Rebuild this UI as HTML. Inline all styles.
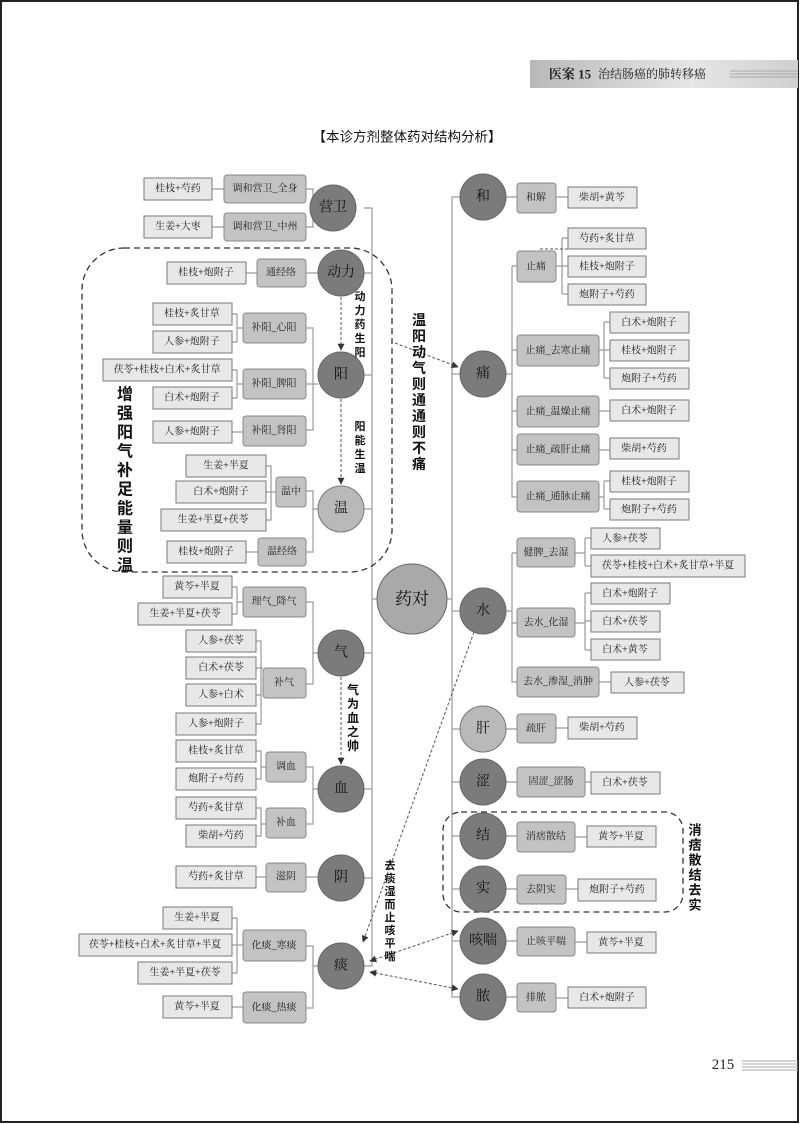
<!DOCTYPE html>
<html><head><meta charset="utf-8"><style>
html,body{margin:0;padding:0;background:#fff}
svg{display:block}
.l{fill:#e8e8e8;stroke:#7a7a7a;stroke-width:1}
.m{fill:#c3c3c3;stroke:#8a8a8a;stroke-width:1}
.c{fill:#7b7b7b;stroke:#666;stroke-width:1}
.cl{fill:#b9b9b9;stroke:#777;stroke-width:1}
.ln{stroke:#9a9a9a;stroke-width:1.2;fill:none}
.d{stroke:#555;stroke-width:1;stroke-dasharray:3,2;fill:none}
.dd{stroke:#333;stroke-width:1.3;stroke-dasharray:6,4;fill:none}
text{font-family:"Liberation Serif","Noto Serif CJK SC",serif;font-size:10px;fill:#222;text-anchor:middle;dominant-baseline:central}
text.ct{font-size:14px;fill:#111}
.b text, text.b{font-family:"Liberation Sans","Noto Sans CJK SC",sans-serif;font-weight:bold;fill:#111}
</style></head><body>
<svg width="800" height="1124" viewBox="0 0 800 1124" xmlns="http://www.w3.org/2000/svg">
<defs>
<linearGradient id="hg" x1="0" x2="1"><stop offset="0" stop-color="#b8b8b8"/><stop offset="0.6" stop-color="#e6e6e6"/><stop offset="1" stop-color="#cfcfcf"/></linearGradient>
<marker id="ar" viewBox="0 0 10 10" refX="9" refY="5" markerWidth="7" markerHeight="7" orient="auto"><path d="M0,0L10,5L0,10z" fill="#333"/></marker>
<marker id="as" viewBox="0 0 10 10" refX="1" refY="5" markerWidth="7" markerHeight="7" orient="auto"><path d="M10,0L0,5L10,10z" fill="#333"/></marker>
</defs>
<rect x="1" y="1" width="797" height="1121" fill="none" stroke="#222" stroke-width="2"/>
<!-- header -->
<rect x="530" y="60" width="268" height="28" fill="url(#hg)"/>
<text x="570" y="74" style="font-size:13px;font-weight:bold">医案 15</text>
<text x="652" y="74" style="font-size:12px">治结肠癌的肺转移癌</text>
<g stroke="#aaa"><line x1="730" y1="71" x2="798" y2="71"/><line x1="730" y1="74" x2="798" y2="74"/><line x1="730" y1="77" x2="798" y2="77"/></g>
<text x="407" y="137" class="b" style="font-size:13.5px;font-weight:normal">【本诊方剂整体药对结构分析】</text>
<!-- main vertical lines -->
<path class="ln" d="M364,208H372V966H364"/>
<path class="ln" d="M460,197H452V997H460"/>
<line class="ln" x1="372" y1="599" x2="379" y2="599"/>
<line class="ln" x1="445" y1="599" x2="452" y2="599"/>
<g class="ln">
<line x1="364" y1="273" x2="372" y2="273"/><line x1="364" y1="375" x2="372" y2="375"/><line x1="364" y1="509" x2="372" y2="509"/><line x1="364" y1="653" x2="372" y2="653"/><line x1="364" y1="789" x2="372" y2="789"/><line x1="364" y1="878" x2="372" y2="878"/>
<line x1="452" y1="374" x2="460" y2="374"/><line x1="452" y1="611" x2="460" y2="611"/><line x1="452" y1="729" x2="460" y2="729"/><line x1="452" y1="782" x2="460" y2="782"/><line x1="452" y1="836" x2="460" y2="836"/><line x1="452" y1="889" x2="460" y2="889"/><line x1="452" y1="941" x2="460" y2="941"/>
</g>
<!-- LEFT connectors -->
<g class="ln">
<path d="M306,189H313V227H306M313,208H318"/><path d="M212,189H224M212,227H224"/>
<path d="M246,273H257M306,273H318"/>
<path d="M306,328H313V430H306M306,384H318"/>
<path d="M232,314H237V342H232M237,328H243"/>
<path d="M232,370H237V398H232M237,384H243"/>
<path d="M232,432H243"/>
<path d="M306,491H313V552H306M313,509H318"/>
<path d="M266,466H271V520H266M266,492H276"/>
<path d="M246,552H258"/>
<path d="M306,602H313V684H306M313,653H318"/>
<path d="M232,587H237V614H232M237,602H243"/>
<path d="M256,641H261V724H256M256,668H263M256,695H261"/>
<path d="M306,767H313V824H306M313,789H318"/>
<path d="M256,751H261V779H256M261,767H266"/>
<path d="M256,808H261V836H256M261,824H266"/>
<path d="M256,877H266M306,877H318"/>
<path d="M306,946H313V1008H306M313,966H318"/>
<path d="M232,918H237V973H232M232,945H243"/>
<path d="M232,1007H243"/>
</g>
<!-- RIGHT connectors -->
<g class="ln">
<path d="M506,197H517M556,197H568"/>
<path d="M512,266V497H517M512,266H517M512,350H517M512,411H517M512,450H517"/>
<path d="M506,374H512"/>
<path d="M556,266H562M562,238V294M562,238H568M562,266H568M562,294H568"/>
<path d="M599,350H604M604,322V378M604,322H610M604,350H610M604,378H610"/>
<path d="M599,411H610M599,450H610"/>
<path d="M599,497H604M604,481V509M604,481H610M604,509H610"/>
<path d="M512,553V682H517M512,553H517M512,623H517M506,611H512"/>
<path d="M575,553H585M585,538V566M585,538H591M585,566H591"/>
<path d="M575,623H585M585,593V650M585,593H591M585,621H591M585,650H591"/>
<path d="M599,682H611"/>
<path d="M506,729H517M556,728H568"/>
<path d="M506,782H517M585,782H591"/>
<path d="M506,836H517M575,837H587"/>
<path d="M506,889H517M566,889H578"/>
<path d="M506,941H517M575,942H587"/>
<path d="M506,997H517M556,998H568"/>
</g>
<line class="d" x1="540" y1="249" x2="630" y2="249"/>
<!-- dashed groups -->
<rect class="dd" x="82" y="248" width="310" height="324" rx="42"/>
<rect class="dd" x="443" y="812" width="240" height="100" rx="18"/>
<!-- dashed arrows -->
<line class="d" x1="341" y1="297" x2="341" y2="350" marker-end="url(#ar)"/>
<line class="d" x1="341" y1="399" x2="341" y2="484" marker-end="url(#ar)"/>
<line class="d" x1="341" y1="677" x2="341" y2="764" marker-end="url(#ar)"/>
<line class="d" x1="395" y1="343" x2="458" y2="367" marker-end="url(#ar)"/>
<line class="d" x1="474" y1="632" x2="363" y2="942" marker-end="url(#ar)"/>
<line class="d" x1="370" y1="961" x2="458" y2="931" marker-start="url(#as)" marker-end="url(#ar)"/>
<line class="d" x1="370" y1="972" x2="458" y2="989" marker-start="url(#as)" marker-end="url(#ar)"/>
<!-- circles left -->
<circle class="c" cx="333" cy="208" r="23"/><text class="ct" x="333" y="208">营卫</text>
<circle class="c" cx="341" cy="273" r="23"/><text class="ct" x="341" y="273">动力</text>
<circle class="c" cx="341" cy="375" r="23"/><text class="ct" x="341" y="375">阳</text>
<circle class="cl" cx="341" cy="509" r="23"/><text class="ct" x="341" y="509">温</text>
<circle class="c" cx="341" cy="653" r="23"/><text class="ct" x="341" y="653">气</text>
<circle class="c" cx="341" cy="789" r="23"/><text class="ct" x="341" y="789">血</text>
<circle class="c" cx="341" cy="878" r="23"/><text class="ct" x="341" y="878">阴</text>
<circle class="c" cx="341" cy="966" r="23"/><text class="ct" x="341" y="966">痰</text>
<circle cx="412" cy="599" r="35" fill="#a9a9a9" stroke="#666"/><text class="ct" x="412" y="599" style="font-size:17px">药对</text>
<!-- circles right -->
<circle class="c" cx="483" cy="197" r="23"/><text class="ct" x="483" y="197">和</text>
<circle class="c" cx="483" cy="374" r="23"/><text class="ct" x="483" y="374">痛</text>
<circle class="c" cx="483" cy="611" r="23"/><text class="ct" x="483" y="611">水</text>
<circle class="cl" cx="483" cy="729" r="23"/><text class="ct" x="483" y="729">肝</text>
<circle class="c" cx="483" cy="782" r="23"/><text class="ct" x="483" y="782">涩</text>
<circle class="c" cx="483" cy="836" r="23"/><text class="ct" x="483" y="836">结</text>
<circle class="c" cx="483" cy="889" r="23"/><text class="ct" x="483" y="889">实</text>
<circle class="c" cx="483" cy="941" r="23"/><text class="ct" x="483" y="941">咳喘</text>
<circle class="c" cx="483" cy="997" r="23"/><text class="ct" x="483" y="997">脓</text>
<!-- LEFT mids -->
<g>
<rect class="m" x="224" y="175" width="82" height="28" rx="3"/><text x="265" y="189">调和营卫_全身</text>
<rect class="m" x="224" y="213" width="82" height="28" rx="3"/><text x="265" y="227">调和营卫_中州</text>
<rect class="m" x="257" y="259" width="49" height="28" rx="3"/><text x="281" y="273">通经络</text>
<rect class="m" x="243" y="313" width="63" height="30" rx="3"/><text x="274" y="328">补阳_心阳</text>
<rect class="m" x="243" y="369" width="63" height="30" rx="3"/><text x="274" y="384">补阳_脾阳</text>
<rect class="m" x="243" y="416" width="63" height="30" rx="3"/><text x="274" y="431">补阳_肾阳</text>
<rect class="m" x="276" y="477" width="30" height="30" rx="3"/><text x="291" y="492">温中</text>
<rect class="m" x="258" y="538" width="48" height="28" rx="3"/><text x="282" y="552">温经络</text>
<rect class="m" x="243" y="587" width="63" height="30" rx="3"/><text x="274" y="602">理气_降气</text>
<rect class="m" x="263" y="668" width="43" height="30" rx="3"/><text x="284" y="683">补气</text>
<rect class="m" x="266" y="752" width="40" height="30" rx="3"/><text x="286" y="767">调血</text>
<rect class="m" x="266" y="808" width="40" height="30" rx="3"/><text x="286" y="823">补血</text>
<rect class="m" x="266" y="863" width="40" height="29" rx="3"/><text x="286" y="877">滋阴</text>
<rect class="m" x="243" y="930" width="63" height="31" rx="3"/><text x="274" y="946">化痰_寒痰</text>
<rect class="m" x="243" y="992" width="63" height="31" rx="3"/><text x="274" y="1008">化痰_热痰</text>
</g>
<!-- LEFT leaves -->
<g>
<rect class="l" x="144" y="178" width="68" height="22"/><text x="178" y="189">桂枝+芍药</text>
<rect class="l" x="144" y="216" width="68" height="22"/><text x="178" y="227">生姜+大枣</text>
<rect class="l" x="167" y="262" width="79" height="22"/><text x="206" y="273">桂枝+炮附子</text>
<rect class="l" x="153" y="303" width="79" height="22"/><text x="192" y="314">桂枝+炙甘草</text>
<rect class="l" x="153" y="331" width="79" height="22"/><text x="192" y="342">人参+炮附子</text>
<rect class="l" x="103" y="359" width="129" height="22"/><text x="167" y="370">茯苓+桂枝+白术+炙甘草</text>
<rect class="l" x="153" y="387" width="79" height="22"/><text x="192" y="398">白术+炮附子</text>
<rect class="l" x="153" y="421" width="79" height="22"/><text x="192" y="432">人参+炮附子</text>
<rect class="l" x="186" y="455" width="80" height="22"/><text x="226" y="466">生姜+半夏</text>
<rect class="l" x="176" y="481" width="90" height="22"/><text x="221" y="492">白术+炮附子</text>
<rect class="l" x="161" y="509" width="105" height="22"/><text x="213" y="520">生姜+半夏+茯苓</text>
<rect class="l" x="167" y="541" width="79" height="22"/><text x="206" y="552">桂枝+炮附子</text>
<rect class="l" x="163" y="576" width="69" height="22"/><text x="197" y="587">黄芩+半夏</text>
<rect class="l" x="138" y="603" width="94" height="22"/><text x="185" y="614">生姜+半夏+茯苓</text>
<rect class="l" x="186" y="630" width="70" height="22"/><text x="221" y="641">人参+茯苓</text>
<rect class="l" x="186" y="657" width="70" height="22"/><text x="221" y="668">白术+茯苓</text>
<rect class="l" x="186" y="684" width="70" height="22"/><text x="221" y="695">人参+白术</text>
<rect class="l" x="176" y="713" width="80" height="22"/><text x="216" y="724">人参+炮附子</text>
<rect class="l" x="176" y="740" width="80" height="22"/><text x="216" y="751">桂枝+炙甘草</text>
<rect class="l" x="176" y="768" width="80" height="22"/><text x="216" y="779">炮附子+芍药</text>
<rect class="l" x="176" y="797" width="80" height="22"/><text x="216" y="808">芍药+炙甘草</text>
<rect class="l" x="186" y="825" width="70" height="22"/><text x="221" y="836">柴胡+芍药</text>
<rect class="l" x="176" y="866" width="80" height="22"/><text x="216" y="877">芍药+炙甘草</text>
<rect class="l" x="163" y="907" width="69" height="22"/><text x="197" y="918">生姜+半夏</text>
<rect class="l" x="79" y="934" width="153" height="22"/><text x="155" y="945">茯苓+桂枝+白术+炙甘草+半夏</text>
<rect class="l" x="138" y="962" width="94" height="22"/><text x="185" y="973">生姜+半夏+茯苓</text>
<rect class="l" x="163" y="996" width="69" height="22"/><text x="197" y="1007">黄芩+半夏</text>
</g>
<!-- RIGHT mids -->
<g>
<rect class="m" x="517" y="183" width="39" height="30" rx="3"/><text x="536" y="198">和解</text>
<rect class="m" x="517" y="251" width="39" height="31" rx="3"/><text x="536" y="267">止痛</text>
<rect class="m" x="517" y="335" width="82" height="31" rx="3"/><text x="558" y="351">止痛_去寒止痛</text>
<rect class="m" x="517" y="396" width="82" height="31" rx="3"/><text x="558" y="412">止痛_温燥止痛</text>
<rect class="m" x="517" y="434" width="82" height="31" rx="3"/><text x="558" y="450">止痛_疏肝止痛</text>
<rect class="m" x="517" y="481" width="82" height="31" rx="3"/><text x="558" y="497">止痛_通脉止痛</text>
<rect class="m" x="517" y="538" width="58" height="29" rx="3"/><text x="546" y="553">健脾_去湿</text>
<rect class="m" x="517" y="608" width="58" height="29" rx="3"/><text x="546" y="623">去水_化湿</text>
<rect class="m" x="517" y="667" width="82" height="30" rx="3"/><text x="558" y="682">去水_渗湿_消肿</text>
<rect class="m" x="517" y="714" width="39" height="29" rx="3"/><text x="536" y="729">疏肝</text>
<rect class="m" x="517" y="767" width="68" height="30" rx="3"/><text x="551" y="782">固涩_涩肠</text>
<rect class="m" x="517" y="822" width="58" height="30" rx="3"/><text x="546" y="837">消痞散结</text>
<rect class="m" x="517" y="875" width="49" height="29" rx="3"/><text x="541" y="890">去阴实</text>
<rect class="m" x="517" y="927" width="58" height="29" rx="3"/><text x="546" y="942">止咳平喘</text>
<rect class="m" x="517" y="983" width="39" height="29" rx="3"/><text x="536" y="998">排脓</text>
</g>
<!-- RIGHT leaves -->
<g>
<rect class="l" x="568" y="187" width="69" height="21"/><text x="602" y="198">柴胡+黄芩</text>
<rect class="l" x="568" y="228" width="78" height="21"/><text x="607" y="239">芍药+炙甘草</text>
<rect class="l" x="568" y="256" width="78" height="21"/><text x="607" y="267">桂枝+炮附子</text>
<rect class="l" x="568" y="284" width="78" height="21"/><text x="607" y="295">炮附子+芍药</text>
<rect class="l" x="610" y="312" width="79" height="21"/><text x="649" y="323">白术+炮附子</text>
<rect class="l" x="610" y="340" width="79" height="21"/><text x="649" y="351">桂枝+炮附子</text>
<rect class="l" x="610" y="368" width="79" height="21"/><text x="649" y="379">炮附子+芍药</text>
<rect class="l" x="610" y="400" width="79" height="21"/><text x="649" y="411">白术+炮附子</text>
<rect class="l" x="610" y="438" width="69" height="21"/><text x="644" y="449">柴胡+芍药</text>
<rect class="l" x="610" y="471" width="79" height="21"/><text x="649" y="482">桂枝+炮附子</text>
<rect class="l" x="610" y="499" width="79" height="21"/><text x="649" y="510">炮附子+芍药</text>
<rect class="l" x="591" y="528" width="69" height="21"/><text x="625" y="539">人参+茯苓</text>
<rect class="l" x="591" y="555" width="154" height="22"/><text x="668" y="566">茯苓+桂枝+白术+炙甘草+半夏</text>
<rect class="l" x="591" y="583" width="79" height="21"/><text x="630" y="594">白术+炮附子</text>
<rect class="l" x="591" y="611" width="69" height="21"/><text x="625" y="622">白术+茯苓</text>
<rect class="l" x="591" y="639" width="69" height="21"/><text x="625" y="650">白术+黄芩</text>
<rect class="l" x="611" y="672" width="73" height="21"/><text x="647" y="683">人参+茯苓</text>
<rect class="l" x="568" y="717" width="69" height="22"/><text x="602" y="728">柴胡+芍药</text>
<rect class="l" x="591" y="772" width="69" height="22"/><text x="625" y="783">白术+茯苓</text>
<rect class="l" x="587" y="826" width="69" height="21"/><text x="621" y="837">黄芩+半夏</text>
<rect class="l" x="578" y="879" width="78" height="22"/><text x="617" y="890">炮附子+芍药</text>
<rect class="l" x="587" y="932" width="69" height="21"/><text x="621" y="943">黄芩+半夏</text>
<rect class="l" x="568" y="987" width="78" height="21"/><text x="607" y="998">白术+炮附子</text>
</g>
<!-- vertical annotations -->
<g class="b" style="font-size:11px">
<text x="360" y="297" style="font-size:11px">动</text><text x="360" y="311" style="font-size:11px">力</text><text x="360" y="325" style="font-size:11px">药</text><text x="360" y="339" style="font-size:11px">生</text><text x="360" y="353" style="font-size:11px">阳</text>
<text x="360" y="427" style="font-size:11px">阳</text><text x="360" y="441" style="font-size:11px">能</text><text x="360" y="455" style="font-size:11px">生</text><text x="360" y="469" style="font-size:11px">温</text>
<text x="353" y="690" style="font-size:12px">气</text><text x="353" y="704" style="font-size:12px">为</text><text x="353" y="718" style="font-size:12px">血</text><text x="353" y="732" style="font-size:12px">之</text><text x="353" y="746" style="font-size:12px">帅</text>
<text x="390" y="866" style="font-size:11px">去</text><text x="390" y="879" style="font-size:11px">痰</text><text x="390" y="892" style="font-size:11px">湿</text><text x="390" y="905" style="font-size:11px">而</text><text x="390" y="918" style="font-size:11px">止</text><text x="390" y="931" style="font-size:11px">咳</text><text x="390" y="944" style="font-size:11px">平</text><text x="390" y="957" style="font-size:11px">喘</text>
</g>
<g class="b">
<text x="419" y="320" style="font-size:14px">温</text><text x="419" y="336" style="font-size:14px">阳</text><text x="419" y="352" style="font-size:14px">动</text><text x="419" y="368" style="font-size:14px">气</text><text x="419" y="384" style="font-size:14px">则</text><text x="419" y="400" style="font-size:14px">通</text><text x="419" y="416" style="font-size:14px">通</text><text x="419" y="432" style="font-size:14px">则</text><text x="419" y="448" style="font-size:14px">不</text><text x="419" y="464" style="font-size:14px">痛</text>
</g>
<g class="b">
<text x="125" y="395" style="font-size:16px">增</text><text x="125" y="414" style="font-size:16px">强</text><text x="125" y="433" style="font-size:16px">阳</text><text x="125" y="452" style="font-size:16px">气</text><text x="125" y="471" style="font-size:16px">补</text><text x="125" y="490" style="font-size:16px">足</text><text x="125" y="509" style="font-size:16px">能</text><text x="125" y="528" style="font-size:16px">量</text><text x="125" y="547" style="font-size:16px">则</text><text x="125" y="566" style="font-size:16px">温</text>
</g>
<g class="b">
<text x="695" y="830" style="font-size:13px">消</text><text x="695" y="845" style="font-size:13px">痞</text><text x="695" y="860" style="font-size:13px">散</text><text x="695" y="875" style="font-size:13px">结</text><text x="695" y="890" style="font-size:13px">去</text><text x="695" y="905" style="font-size:13px">实</text>
</g>
<!-- page number -->
<text x="723" y="1065" style="font-size:15px">215</text>
<g stroke="#aaa"><line x1="742" y1="1061" x2="798" y2="1061"/><line x1="742" y1="1064" x2="798" y2="1064"/><line x1="742" y1="1067" x2="798" y2="1067"/><line x1="742" y1="1070" x2="798" y2="1070"/></g>
</svg>
</body></html>
